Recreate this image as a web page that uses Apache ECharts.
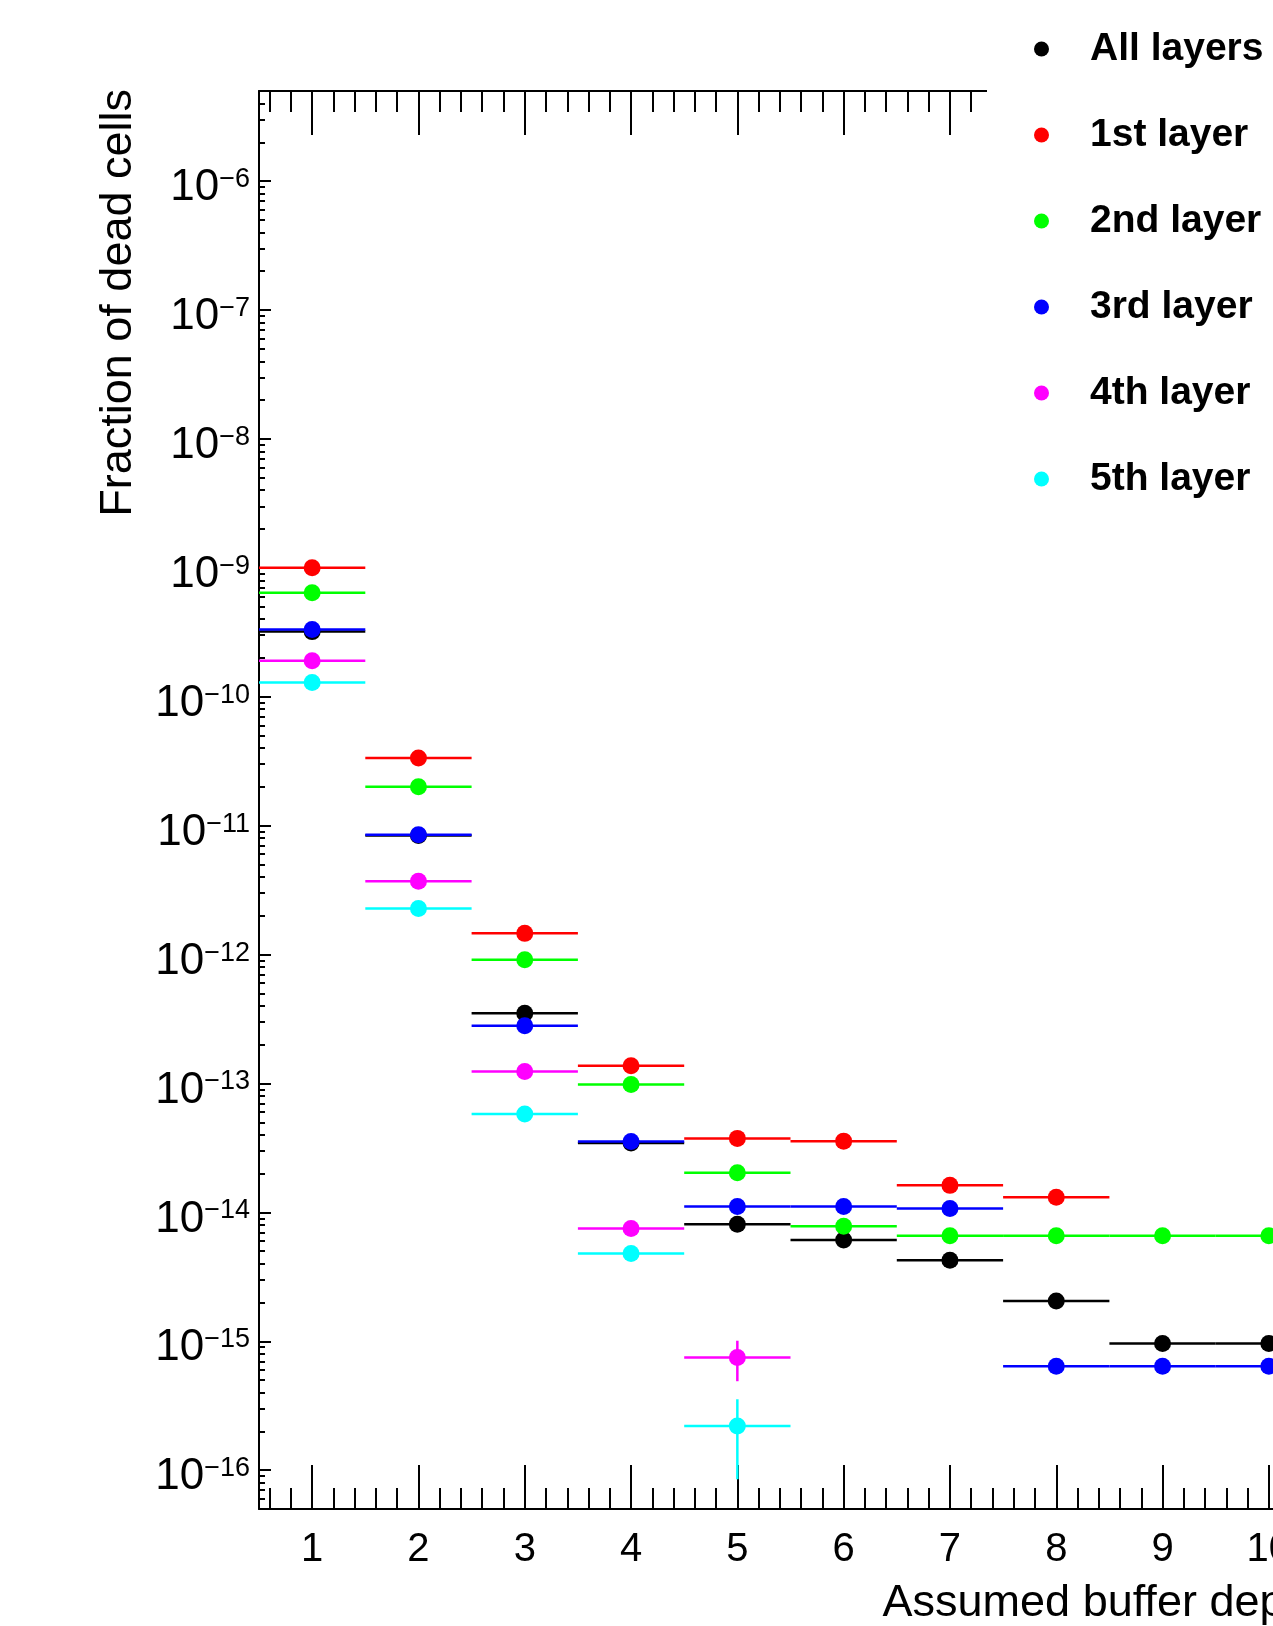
<!DOCTYPE html>
<html>
<head>
<meta charset="utf-8">
<title>Fraction of dead cells</title>
<script src="https://cdn.jsdelivr.net/npm/echarts@6/dist/echarts.min.js"></script>
<style>
html, body { margin: 0; padding: 0; background: #fff; overflow: hidden; }
/* the plot frame runs past the right edge of the page, like the original picture */
#chart { width: 1325px; height: 1626px; }
</style>
</head>
<body>
<div id="chart"></div>
<script>
// bin centres (assumed buffer depth), every bin is 1 wide
var depths = [1, 2, 3, 4, 5, 6, 7, 8, 9, 10];

// fraction of dead cells per layer, null = empty bin
var allLayers = [3.2e-10, 8.4e-12, 3.5e-13, 3.45e-14, 8.1e-15, 6.1e-15, 4.25e-15, 2.05e-15, 9.6e-16, 9.6e-16];
var layer1 = [1.0e-9, 3.35e-11, 1.46e-12, 1.37e-13, 3.75e-14, 3.57e-14, 1.62e-14, 1.31e-14, null, null];
var layer2 = [6.4e-10, 2.0e-11, 9.1e-13, 9.8e-14, 2.03e-14, 7.8e-15, 6.6e-15, 6.6e-15, 6.6e-15, 6.6e-15];
var layer3 = [3.33e-10, 8.5e-12, 2.8e-13, 3.55e-14, 1.11e-14, 1.11e-14, 1.07e-14, 6.4e-16, 6.4e-16, 6.4e-16];
var layer4 = [1.9e-10, 3.7e-12, 1.24e-13, 7.5e-15, 7.5e-16, null, null, null, null, null];
var layer5 = [1.29e-10, 2.28e-12, 5.8e-14, 4.8e-15, 2.2e-16, null, null, null, null, null];

// vertical errors (only visible ones)
var noErr = [0, 0, 0, 0, 0, 0, 0, 0, 0, 0];
var layer4Err = [0, 0, 0, 0, 2.6e-16, 0, 0, 0, 0, 0];
var layer5Err = [0, 0, 0, 0, 1.35e-16, 0, 0, 0, 0, 0];

var layerNames = ['All layers', '1st layer', '2nd layer', '3rd layer', '4th layer', '5th layer'];
var layerColors = ['#000000', '#ff0000', '#00ff00', '#0000ff', '#ff00ff', '#00ffff'];

// axis ticks
var xMajorTicks = [1, 2, 3, 4, 5, 6, 7, 8, 9, 10];
var yDecades = [1e-16, 1e-15, 1e-14, 1e-13, 1e-12, 1e-11, 1e-10, 1e-9, 1e-8, 1e-7, 1e-6];

var xMin = 0.5, xMax = 10.5;
var yMin = 5e-17, yMax = 5e-6;

var xMinorTicks = [];
for (var i = 0; i <= 10; i++) {
    [0.2, 0.4, 0.6, 0.8].forEach(function (f) {
        var v = Math.round((i + f) * 10) / 10;
        if (v > xMin && v < xMax) xMinorTicks.push(v);
    });
}
var yMinorTicks = [];
[1e-17].concat(yDecades).forEach(function (d) {
    for (var m = 2; m <= 9; m++) {
        var v = parseFloat((m * d).toPrecision(3));
        if (v >= yMin && v <= yMax) yMinorTicks.push(v);
    }
});

var font = '"Liberation Sans", Arial, Helvetica, sans-serif';

function makeData(values, errs) {
    var out = [];
    values.forEach(function (v, i) {
        if (v != null) out.push([depths[i], v, errs[i]]);
    });
    return out;
}

function renderBin(params, api) {
    var x = api.value(0), y = api.value(1), err = api.value(2);
    var color = api.visual('color');
    var l = api.coord([x - 0.5, y]);
    var r = api.coord([x + 0.5, y]);
    var c = api.coord([x, y]);
    var kids = [{
        type: 'line',
        shape: { x1: l[0], y1: l[1], x2: r[0], y2: r[1] },
        style: { stroke: color, lineWidth: 2.5 }
    }];
    if (err > 0) {
        var hi = api.coord([x, y + err]);
        var lo = api.coord([x, y - err]);
        kids.push({
            type: 'line',
            shape: { x1: c[0], y1: hi[1], x2: c[0], y2: lo[1] },
            style: { stroke: color, lineWidth: 2.5 }
        });
    }
    kids.push({ type: 'circle', shape: { cx: c[0], cy: c[1], r: 8.5 }, style: { fill: color } });
    return { type: 'group', children: kids };
}

var layerValues = [allLayers, layer1, layer2, layer3, layer4, layer5];
var layerErrs = [noErr, noErr, noErr, noErr, layer4Err, layer5Err];

var series = layerValues.map(function (vals, k) {
    return {
        name: layerNames[k],
        type: 'custom',
        xAxisIndex: 0,
        yAxisIndex: 0,
        itemStyle: { color: layerColors[k] },
        renderItem: renderBin,
        encode: { x: 0, y: 1 },
        data: makeData(vals, layerErrs[k])
    };
});

function tickAxisX(pos, major) {
    return {
        type: 'value', min: xMin, max: xMax, position: pos,
        axisLine: { show: major, lineStyle: { color: '#000', width: 2 } },
        axisTick: { show: true, inside: true, length: major ? 44 : 21,
            customValues: major ? xMajorTicks : xMinorTicks,
            lineStyle: { color: '#000', width: 2 } },
        axisLabel: { show: false },
        splitLine: { show: false }
    };
}

var xMain = tickAxisX('bottom', true);
xMain.axisLabel = {
    show: true, customValues: xMajorTicks, margin: 21,
    fontFamily: font, fontSize: 40, lineHeight: 40, color: '#000'
};
xMain.name = 'Assumed buffer depth';
xMain.nameLocation = 'end';
xMain.nameGap = 0;
xMain.nameMoveOverlap = false;
xMain.nameTextStyle = {
    fontFamily: font, fontSize: 45, lineHeight: 45, color: '#000',
    align: 'right', verticalAlign: 'top', padding: [72, 0, 0, 0]
};

var chart = echarts.init(document.getElementById('chart'));
chart.setOption({
    animation: false,
    backgroundColor: '#fff',
    grid: { left: 259, top: 91, right: 0, bottom: 114 },
    legend: {
        orient: 'vertical',
        left: 987,
        top: 0,
        padding: [29, 80, 30, 47],
        backgroundColor: '#fff',
        icon: 'circle',
        itemWidth: 15,
        itemHeight: 15,
        itemGap: 46,
        data: layerNames,
        textStyle: {
            fontFamily: font, fontSize: 39, fontWeight: 'bold', color: '#000',
            lineHeight: 40, padding: [0, 0, 0, 36]
        }
    },
    xAxis: [xMain, tickAxisX('bottom', false), tickAxisX('top', true), tickAxisX('top', false)],
    yAxis: [{
        type: 'log', logBase: 10, min: yMin, max: yMax, position: 'left',
        axisLine: { show: true, lineStyle: { color: '#000', width: 2 } },
        axisTick: { show: true, inside: true, length: 12, customValues: yDecades,
            lineStyle: { color: '#000', width: 2 } },
        axisLabel: {
            customValues: yDecades, margin: 9, padding: [14, 0, 0, 0],
            formatter: function (v) {
                var e = Math.round(Math.log10(v));
                return '{b|10}{s|\u2212' + (-e) + '}';
            },
            rich: {
                b: { fontFamily: font, fontSize: 44, lineHeight: 44, verticalAlign: 'middle', color: '#000' },
                s: { fontFamily: font, fontSize: 27, lineHeight: 20, verticalAlign: 'top', color: '#000' }
            }
        },
        splitLine: { show: false },
        name: 'Fraction of dead cells',
        nameLocation: 'end',
        nameRotate: 90,
        nameGap: 2,
        nameMoveOverlap: false,
        nameTextStyle: {
            fontFamily: font, fontSize: 45, lineHeight: 45, color: '#000',
            align: 'right', verticalAlign: 'bottom', padding: [0, 0, 118, 0]
        }
    }, {
        type: 'log', logBase: 10, min: yMin, max: yMax, position: 'left',
        axisLine: { show: false },
        axisTick: { show: true, inside: true, length: 6, customValues: yMinorTicks,
            lineStyle: { color: '#000', width: 2 } },
        axisLabel: { show: false },
        splitLine: { show: false }
    }],
    series: series
});
</script>
</body>
</html>
